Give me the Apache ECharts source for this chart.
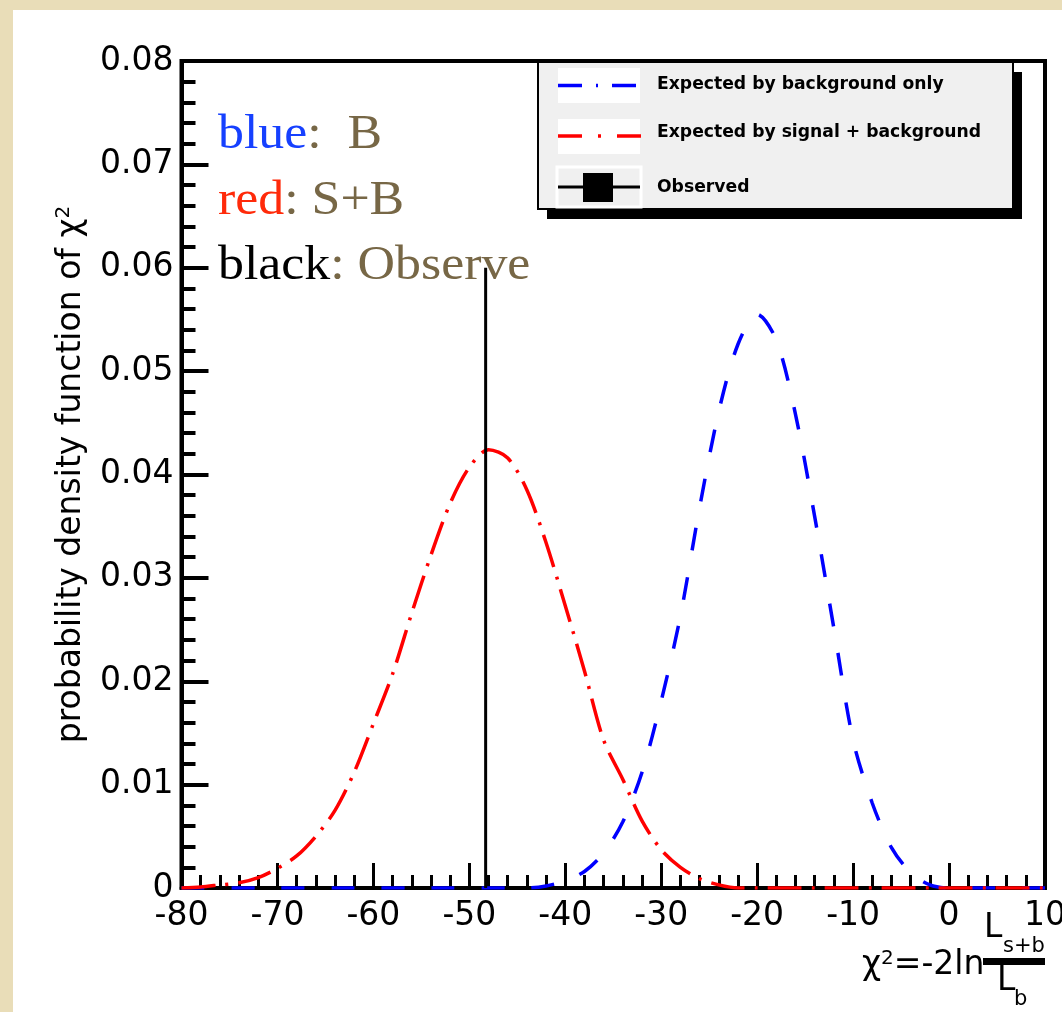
<!DOCTYPE html>
<html><head><meta charset="utf-8">
<script src="https://cdn.jsdelivr.net/npm/echarts@6/dist/echarts.min.js"></script>
<style>
html,body{margin:0;padding:0;background:#e9ddb8;width:1062px;height:1012px;overflow:hidden}
#c{position:absolute;left:13px;top:10px;width:1049px;height:1002px;background:#fff}
</style></head><body><div id="c"></div>
<script>
// ---- data ----
const xValues = [-80,-78,-76,-74,-72,-70,-68,-66,-64,-62,-60,-58,-56,-54,-52,-50,-48,-46,-44,-42,-40,-38,-36,-34,-32,-30,-28,-26,-24,-22,-20,-18,-16,-14,-12,-10,-8,-6,-4,-2,0,2,4,6,8,10];
const bgOnly = [0,0,0,0,0,0,0,0,0,0,0,0,0,0,0,0,0,0,0,0.0002,0.0007,0.0016,0.0034,0.0064,0.0112,0.0181,0.0263,0.0368,0.0461,0.0526,0.0555,0.0530,0.0458,0.0359,0.0251,0.0143,0.0082,0.0039,0.0015,0.0003,0,0,0,0,0,0];
const sigPlusBg = [0,0.0001,0.0003,0.0005,0.0010,0.0019,0.0031,0.0050,0.0075,0.0112,0.0159,0.0207,0.0266,0.0322,0.0372,0.0407,0.0424,0.0416,0.0385,0.0334,0.0273,0.0210,0.0143,0.0105,0.0065,0.0037,0.0020,0.0009,0.0003,0,0,0,0,0,0,0,0,0,0,0,0,0,0,0,0,0];
const observedX = [-48.3, -48.3];
const observedY = [0, 0.06];
const seriesNames = ['Expected by background only', 'Expected by signal + background', 'Observed'];
const xAxisRange = [-80, 10, 10];
const yAxisRange = [0, 0.08, 0.01];
const yAxisTitle = 'probability density function of χ';
const notes = [['blue', ':  B', '#1640ff'], ['red', ': S+B', '#ff2a0a'], ['black', ': Observe', '#000000']];

// ---- chart ----
const OX = 13, OY = 10;
const px = v => v - OX, py = v => v - OY;
const chart = echarts.init(document.getElementById('c'), null, {renderer: 'canvas'});
const pairs = (xs, ys) => xs.map((x, i) => [x, ys[i]]);
const sansFont = 'DejaVu Sans';
const serifFont = 'Liberation Serif';
const noteColor = '#776746';

const graphics = [];
// annotation texts
const noteBaselines = [152, 218, 283];
notes.forEach((n, i) => {
  graphics.push({
    type: 'text', x: px(218), y: py(noteBaselines[i] - 16.2), scaleX: 1.08, z: 5,
    style: {
      text: '{c|' + n[0] + '}{t|' + n[1] + '}',
      verticalAlign: 'middle', align: 'left',
      rich: {
        c: {fill: n[2], fontFamily: serifFont, fontSize: 48},
        t: {fill: noteColor, fontFamily: serifFont, fontSize: 48}
      }
    }
  });
});
// legend box
graphics.push({type: 'rect', z: 8, shape: {x: px(547), y: py(72), width: 475, height: 147}, style: {fill: '#000'}});
graphics.push({type: 'rect', z: 9, shape: {x: px(538), y: py(62), width: 475, height: 147}, style: {fill: '#f0f0f0', stroke: '#000', lineWidth: 2}});
graphics.push({type: 'rect', z: 10, shape: {x: px(558), y: py(68), width: 82, height: 35}, style: {fill: '#fff'}});
graphics.push({type: 'rect', z: 10, shape: {x: px(558), y: py(119), width: 82, height: 35}, style: {fill: '#fff'}});
graphics.push({type: 'rect', z: 10, shape: {x: px(557), y: py(167), width: 84, height: 40}, style: {fill: '#f0f0f0', stroke: '#fff', lineWidth: 3}});
graphics.push({type: 'line', z: 11, shape: {x1: px(558), y1: py(85.5), x2: px(640), y2: py(85.5)}, style: {stroke: '#0000ff', lineWidth: 3.5, lineDash: [24, 14, 2, 14]}});
graphics.push({type: 'line', z: 11, shape: {x1: px(558), y1: py(136), x2: px(641), y2: py(136)}, style: {stroke: '#ff0000', lineWidth: 3.5, lineDash: [24, 16, 3, 16]}});
graphics.push({type: 'line', z: 11, shape: {x1: px(558), y1: py(187), x2: px(640), y2: py(187)}, style: {stroke: '#000', lineWidth: 3}});
graphics.push({type: 'rect', z: 11, shape: {x: px(583), y: py(173), width: 30, height: 29}, style: {fill: '#000'}});
[85, 133, 188].forEach((yy, i) => {
  graphics.push({type: 'text', z: 12, x: px(657), y: py(yy), style: {text: seriesNames[i], fill: '#000', fontFamily: sansFont, fontWeight: 'bold', fontSize: 17.2, verticalAlign: 'middle', align: 'left'}});
});
// x-axis title (fraction)
graphics.push({type: 'text', z: 5, x: px(862), y: py(977 - 11.4), style: {
  text: '{a|χ}{s|2}{a|=-2ln}', verticalAlign: 'middle', align: 'left',
  rich: {a: {fill: '#000', fontFamily: sansFont, fontSize: 33, lineHeight: 33}, s: {fill: '#000', fontFamily: sansFont, fontSize: 20, verticalAlign: 'top'}}
}});
graphics.push({type: 'rect', z: 5, shape: {x: px(983), y: py(958), width: 62, height: 7}, style: {fill: '#000'}});
graphics.push({type: 'text', z: 5, x: px(984), y: py(940 - 11.4), style: {text: 'L', fill: '#000', fontFamily: sansFont, fontSize: 33, verticalAlign: 'middle', align: 'left'}});
graphics.push({type: 'text', z: 5, x: px(1003), y: py(954 - 7.2), style: {text: 's+b', fill: '#000', fontFamily: sansFont, fontSize: 21, verticalAlign: 'middle', align: 'left'}});
graphics.push({type: 'text', z: 5, x: px(997), y: py(993 - 11.4), style: {text: 'L', fill: '#000', fontFamily: sansFont, fontSize: 33, verticalAlign: 'middle', align: 'left'}});
graphics.push({type: 'text', z: 5, x: px(1014), y: py(1007 - 7.2), style: {text: 'b', fill: '#000', fontFamily: sansFont, fontSize: 21, verticalAlign: 'middle', align: 'left'}});

const option = {
  backgroundColor: '#ffffff',
  animation: false,
  grid: {left: 168.5, top: 51, right: 17, bottom: 124, containLabel: false, outerBoundsMode: 'none',
    show: true, borderColor: '#000', borderWidth: 4, backgroundColor: '#fff'},
  xAxis: {
    type: 'value', min: xAxisRange[0], max: xAxisRange[1], interval: xAxisRange[2],
    axisLine: {show: true, onZero: false, lineStyle: {color: '#000', width: 4}},
    axisTick: {show: true, inside: true, length: 25, lineStyle: {color: '#000', width: 3}},
    minorTick: {show: true, splitNumber: 5, length: 13, lineStyle: {color: '#000', width: 3}},
    splitLine: {show: false}, minorSplitLine: {show: false},
    axisLabel: {color: '#000', fontFamily: sansFont, fontSize: 33, margin: 12}
  },
  yAxis: {
    type: 'value', min: yAxisRange[0], max: yAxisRange[1], interval: yAxisRange[2],
    axisLine: {show: true, onZero: false, lineStyle: {color: '#000', width: 4}},
    axisTick: {show: true, inside: true, length: 27, lineStyle: {color: '#000', width: 4}},
    minorTick: {show: true, splitNumber: 5, length: 14, lineStyle: {color: '#000', width: 4}},
    splitLine: {show: false}, minorSplitLine: {show: false},
    axisLabel: {color: '#000', fontFamily: sansFont, fontSize: 33, margin: 8},
    name: '{n|' + yAxisTitle + '}{s|2}', nameLocation: 'middle', nameRotate: 90, nameGap: 93,
    nameTextStyle: {color: '#000', fontFamily: sansFont, fontSize: 33,
      rich: {n: {fontFamily: sansFont, fontSize: 33, lineHeight: 35, color: '#000'}, s: {fontFamily: sansFont, fontSize: 20, verticalAlign: 'top', color: '#000'}}}
  },
  series: [
    {name: seriesNames[0], type: 'line', data: pairs(xValues, bgOnly), showSymbol: false, symbol: 'none', smooth: 0.3, z: 3,
      lineStyle: {color: '#0000ff', width: 3.5, type: [23, 27]}},
    {name: seriesNames[1], type: 'line', data: pairs(xValues, sigPlusBg), showSymbol: false, symbol: 'none', smooth: 0.3, z: 3,
      lineStyle: {color: '#ff0000', width: 3.5, type: [34, 10, 3, 10]}},
    {name: seriesNames[2], type: 'line', data: pairs(observedX, observedY), showSymbol: false, symbol: 'none', z: 4,
      lineStyle: {color: '#000', width: 3}}
  ],
  graphic: graphics
};
chart.setOption(option);
</script></body></html>
